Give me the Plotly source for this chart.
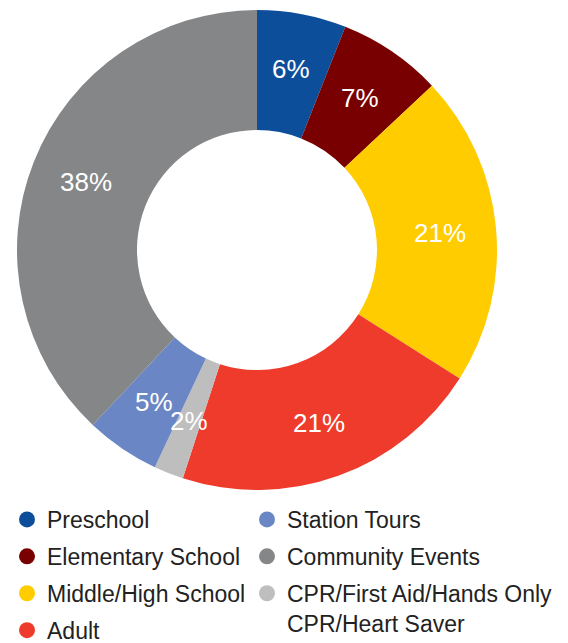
import math
import plotly.graph_objects as go

labels = ["Preschool", "Elementary School", "Middle/High School", "Adult",
          "CPR/First Aid/Hands Only<br>CPR/Heart Saver", "Station Tours", "Community Events"]
values = [6, 7, 21, 21, 2, 5, 38]
colors = ["#0D4E9B", "#780000", "#FFCC00", "#EE3B2B", "#BEBEBE", "#6A86C4", "#858688"]

legend1_idx = [0, 1, 2, 3]
legend2_idx = [5, 6, 4]

W, H = 568, 643
FONT = "Liberation Sans, Arial, sans-serif"

# pie geometry (figure pixels)
CX, CY, R = 249, 242, 240
HOLE = 0.5
LABEL_R = 184

fig = go.Figure()
fig.add_trace(go.Pie(
    labels=labels, values=values, sort=False, direction="clockwise", rotation=0,
    hole=HOLE, marker=dict(colors=colors, line=dict(width=0)),
    textinfo="none", showlegend=False, hoverinfo="label+value",
    domain=dict(x=[(CX - R) / W, (CX + R) / W], y=[1 - (CY + R) / H, 1 - (CY - R) / H]),
))

# percentage labels at the middle of each slice
total = sum(values)
cum = 0
for v in values:
    mid = (cum + v / 2) / total * 2 * math.pi
    cum += v
    px = CX + LABEL_R * math.sin(mid)
    py = CY - LABEL_R * math.cos(mid)
    fig.add_annotation(x=px / W, y=1 - py / H, xref="paper", yref="paper",
                       text=f"{v}%", showarrow=False, xanchor="center", yanchor="middle",
                       font=dict(color="white", size=26, family=FONT))

for legend_name, idxs in (("legend", legend1_idx), ("legend2", legend2_idx)):
    for i in idxs:
        fig.add_trace(go.Scatter(
            x=[None], y=[None], mode="markers", name=labels[i],
            marker=dict(color=colors[i], size=17, symbol="circle"),
            legend=legend_name, legendgroup=labels[i], showlegend=True,
        ))

common = dict(font=dict(family=FONT, size=23, color="#222222"),
              bgcolor="rgba(0,0,0,0)", borderwidth=0, traceorder="grouped",
              tracegroupgap=4, itemsizing="trace", yanchor="top", xanchor="left",
              orientation="v", valign="top")
fig.update_layout(
    width=W, height=H, margin=dict(l=0, r=0, t=0, b=0, autoexpand=False),
    paper_bgcolor="white", plot_bgcolor="white",
    xaxis=dict(visible=False), yaxis=dict(visible=False),
    legend=dict(x=-1 / W, y=1 - 490 / H, **common),
    legend2=dict(x=239 / W, y=1 - 490 / H, **common),
)

fig.write_html("out.html")
